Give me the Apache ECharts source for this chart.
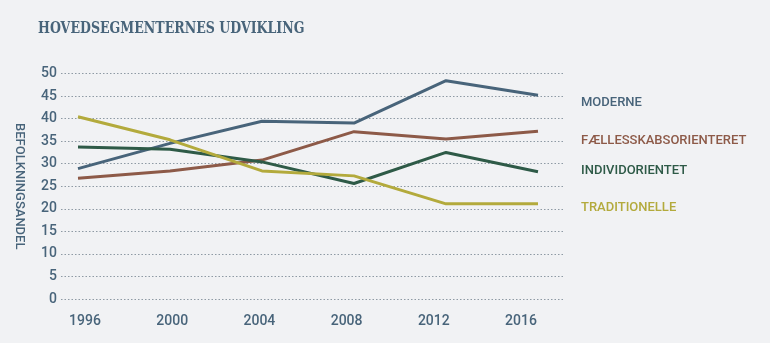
<!DOCTYPE html>
<html>
<head>
<meta charset="utf-8">
<script src="https://cdn.jsdelivr.net/npm/echarts@6/dist/echarts.min.js"></script>
<style>
html,body{margin:0;padding:0;background:#f1f2f4;}
#c{width:770px;height:343px;}
</style>
</head>
<body>
<div id="c"></div>
<script>
const years = [1996, 2000, 2004, 2008, 2012, 2016];
const yearLabels = ['1996', '2000', '2004', '2008', '2012', '2016'];
const moderne = [28.9, 34.5, 39.4, 39.0, 48.4, 45.2];
const faellesskab = [26.8, 28.4, 30.8, 37.1, 35.5, 37.2];
const individ = [33.7, 33.2, 30.4, 25.6, 32.5, 28.2];
const traditionelle = [40.4, 35.3, 28.4, 27.3, 21.1, 21.1];
const seriesNames = ['MODERNE', 'FÆLLESSKABSORIENTERET', 'INDIVIDORIENTET', 'TRADITIONELLE'];
const titleText = 'HOVEDSEGMENTERNES UDVIKLING';
const colors = ['#48647a', '#8d5a48', '#2e5a47', '#b3aa3c'];

const chart = echarts.init(document.getElementById('c'));
const axisColor = '#48647a';
const font = 'Roboto';

function pairs(arr) { return years.map((y, i) => [y, arr[i]]); }
const allData = [moderne, faellesskab, individ, traditionelle];
const labelY = [103, 141, 171, 208];

chart.setOption({
  backgroundColor: '#f1f2f4',
  animation: false,
  grid: [
    { left: 61, right: 207, top: 73.5, bottom: 44 },
    { left: 85, right: 249, top: 73.5, bottom: 44 }
  ],
  xAxis: [
    { type: 'value', gridIndex: 0, min: 1995.261, max: 2017.087, show: false },
    { type: 'category', gridIndex: 1, data: yearLabels, boundaryGap: false,
      axisLine: { show: false }, axisTick: { show: false }, splitLine: { show: false },
      axisLabel: { margin: 15, color: axisColor, fontFamily: font, fontWeight: 500, fontSize: 14 } }
  ],
  yAxis: [
    { type: 'value', gridIndex: 0, min: 0, max: 50, interval: 5,
      axisLine: { show: false }, axisTick: { show: false },
      axisLabel: { margin: 4, color: axisColor, fontFamily: font, fontWeight: 500, fontSize: 14 },
      splitLine: { lineStyle: { type: [1.5, 2], color: '#8e9aa4', width: 1 } },
      name: 'BEFOLKNINGSANDEL', nameLocation: 'middle', nameRotate: -90, nameGap: 35,
      nameTextStyle: { color: axisColor, fontFamily: font, fontWeight: 500, fontSize: 13 } },
    { type: 'value', gridIndex: 1, min: 0, max: 50, show: false }
  ],
  series: allData.map((d, i) => ({
    type: 'line', name: seriesNames[i], xAxisIndex: 0, yAxisIndex: 0,
    data: pairs(d), symbol: 'none', lineStyle: { width: 3, color: colors[i] }, z: 3
  })),
  graphic: [{
    type: 'text', x: 38, y: 20, scaleX: 0.74, scaleY: 1, originX: 0, originY: 0,
    style: { text: titleText, fill: '#48647a', font: 'bold 17px "DejaVu Serif"', x: 0, y: 0 }
  }].concat(seriesNames.map((n, i) => ({
    type: 'text', left: 581, top: labelY[i] - 7,
    style: { text: n, fill: colors[i], font: '500 13px Roboto' }
  })))
});
</script>
</body>
</html>
